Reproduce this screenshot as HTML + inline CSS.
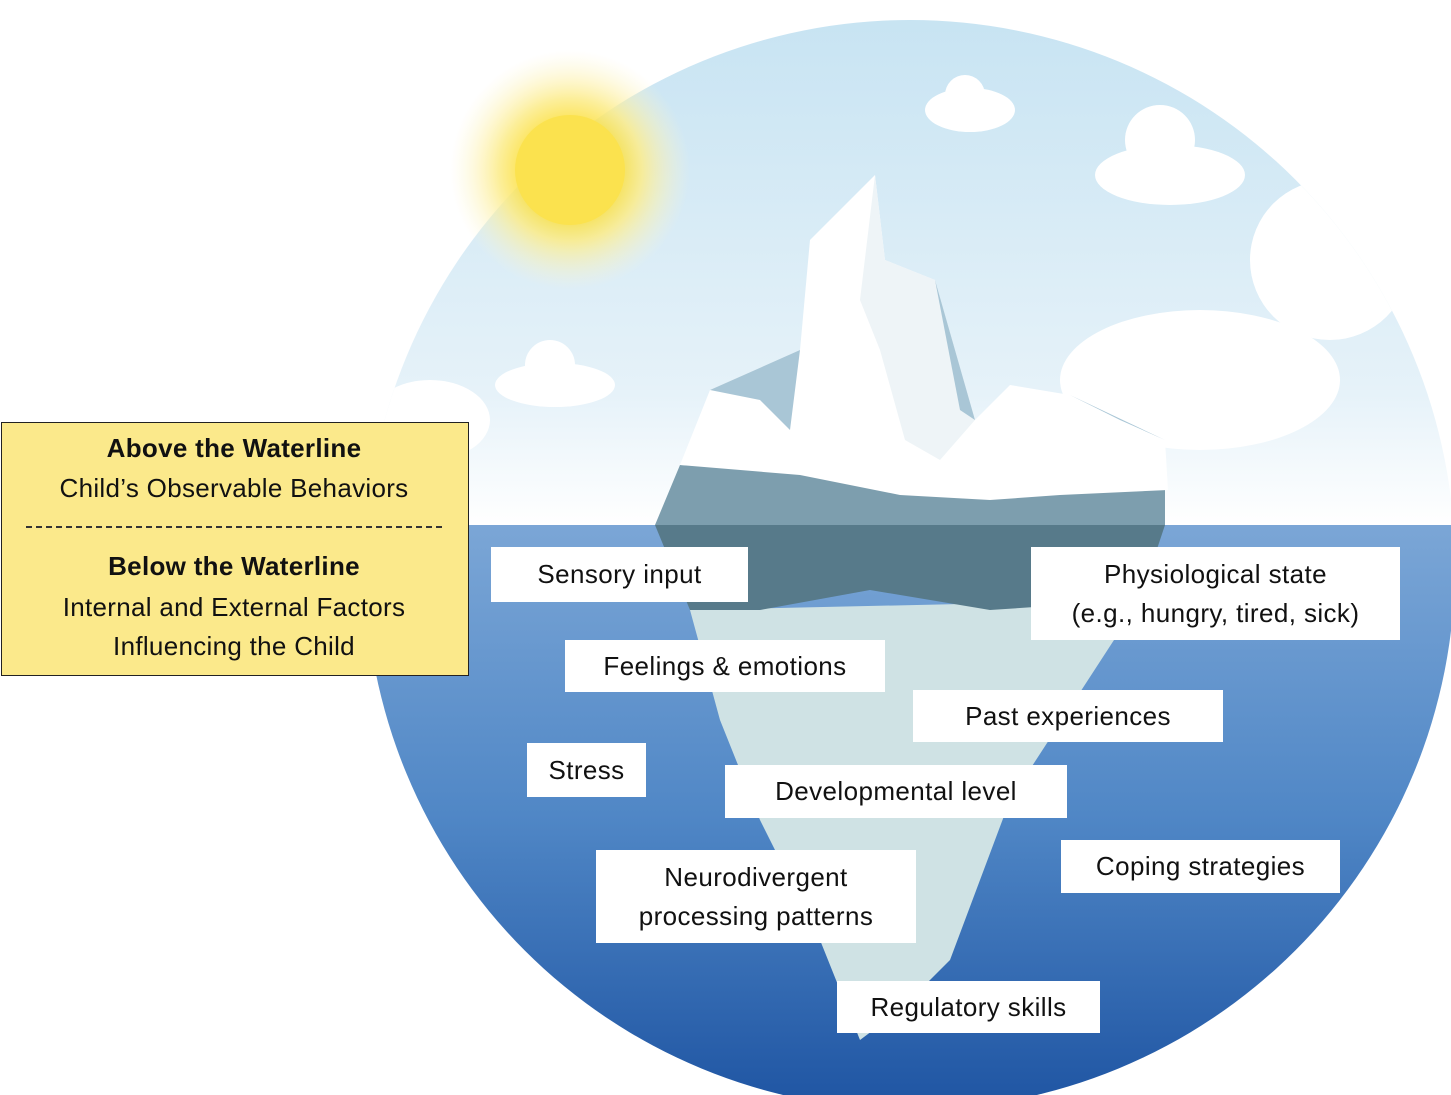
<!DOCTYPE html>
<html><head><meta charset="utf-8"><style>
html,body{margin:0;padding:0;background:#fff;}
body{width:1451px;height:1095px;position:relative;overflow:hidden;font-family:"Liberation Sans",sans-serif;}
.b{position:absolute;background:#fff;display:flex;align-items:center;justify-content:center;text-align:center;font-size:26px;color:#111;line-height:39px;letter-spacing:0.4px}
.y{position:absolute;left:0;width:468px;text-align:center;font-size:26px;color:#111;letter-spacing:0.3px}
</style></head><body>
<svg width="1451" height="1095" style="position:absolute;left:0;top:0">
<defs>
<linearGradient id="sky" x1="0" y1="0" x2="0" y2="1"><stop offset="0" stop-color="#c6e3f2"/><stop offset="0.75" stop-color="#e6f2f9"/><stop offset="1" stop-color="#ffffff"/></linearGradient>
<linearGradient id="sea" x1="0" y1="0" x2="0" y2="1"><stop offset="0" stop-color="#7ba6d6"/><stop offset="0.5" stop-color="#5087c6"/><stop offset="1" stop-color="#1f55a3"/></linearGradient>
<clipPath id="c"><circle cx="910" cy="565" r="545"/></clipPath>
<radialGradient id="sun"><stop offset="0.45" stop-color="#fbe24e"/><stop offset="0.6" stop-color="#fcec8a"/><stop offset="1" stop-color="#fdf6d0" stop-opacity="0"/></radialGradient>
</defs>
<g clip-path="url(#c)">
<rect x="0" y="0" width="1451" height="525" fill="url(#sky)"/>
<g fill="#fff">
<ellipse cx="970" cy="110" rx="45" ry="22"/><circle cx="965" cy="95" r="20"/>
<ellipse cx="1170" cy="175" rx="75" ry="30"/><circle cx="1160" cy="140" r="35"/>
<ellipse cx="555" cy="385" rx="60" ry="22"/><circle cx="550" cy="365" r="25"/>
<ellipse cx="1200" cy="380" rx="140" ry="70"/><circle cx="1330" cy="260" r="80"/>
<ellipse cx="430" cy="420" rx="60" ry="40"/>
</g>
<rect x="0" y="525" width="1451" height="580" fill="url(#sea)"/>
<polygon points="690,610 1140,600 1010,800 950,960 900,1010 860,1040 820,940 760,820 720,720" fill="#cfe2e4"/>
<polygon points="655,525 1165,525 1140,600 990,610 870,590 760,610 690,610" fill="#577a8a"/>
<polygon points="655,525 1165,525 1165,490 680,465" fill="#7d9eae"/>
</g>
<circle cx="570" cy="170" r="120" fill="url(#sun)" opacity="0.85"/>
<circle cx="570" cy="170" r="55" fill="#fbe24e"/>
<polygon points="680,465 710,390 800,350 810,240 875,175 885,260 935,280 975,420 1010,385 1070,395 1165,440 1168,490 1060,495 990,500 900,495 800,475" fill="#ffffff"/>
<polygon points="875,175 885,260 935,280 975,420 940,460 905,440 880,350 860,300" fill="#eef4f7"/>
<polygon points="710,390 800,350 790,430 760,400" fill="#a9c6d6"/>
<polygon points="935,280 975,420 960,410" fill="#a9c6d6"/>
<polygon points="1070,395 1165,440 1120,420" fill="#a9c6d6"/>
</svg>
<div style="position:absolute;left:1px;top:422px;width:466px;height:252px;background:#fbe98b;border:1.5px solid #222"></div>
<div class="y" style="top:428px;font-weight:bold;line-height:40px">Above the Waterline</div>
<div class="y" style="top:468px;line-height:40px">Child’s Observable Behaviors</div>
<div style="position:absolute;left:26px;top:526px;width:416px;border-top:2px dashed #333"></div>
<div class="y" style="top:546px;font-weight:bold;line-height:40px">Below the Waterline</div>
<div class="y" style="top:587px;line-height:40px">Internal and External Factors</div>
<div class="y" style="top:626px;line-height:40px">Influencing the Child</div>
<div class="b" style="left:491px;top:547px;width:257px;height:55px">Sensory input</div>
<div class="b" style="left:1031px;top:547px;width:369px;height:93px">Physiological state<br>(e.g., hungry, tired, sick)</div>
<div class="b" style="left:565px;top:640px;width:320px;height:52px">Feelings &amp; emotions</div>
<div class="b" style="left:913px;top:690px;width:310px;height:52px">Past experiences</div>
<div class="b" style="left:527px;top:743px;width:119px;height:54px">Stress</div>
<div class="b" style="left:725px;top:765px;width:342px;height:53px">Developmental level</div>
<div class="b" style="left:1061px;top:840px;width:279px;height:53px">Coping strategies</div>
<div class="b" style="left:596px;top:850px;width:320px;height:93px">Neurodivergent<br>processing patterns</div>
<div class="b" style="left:837px;top:981px;width:263px;height:52px">Regulatory skills</div>
</body></html>
